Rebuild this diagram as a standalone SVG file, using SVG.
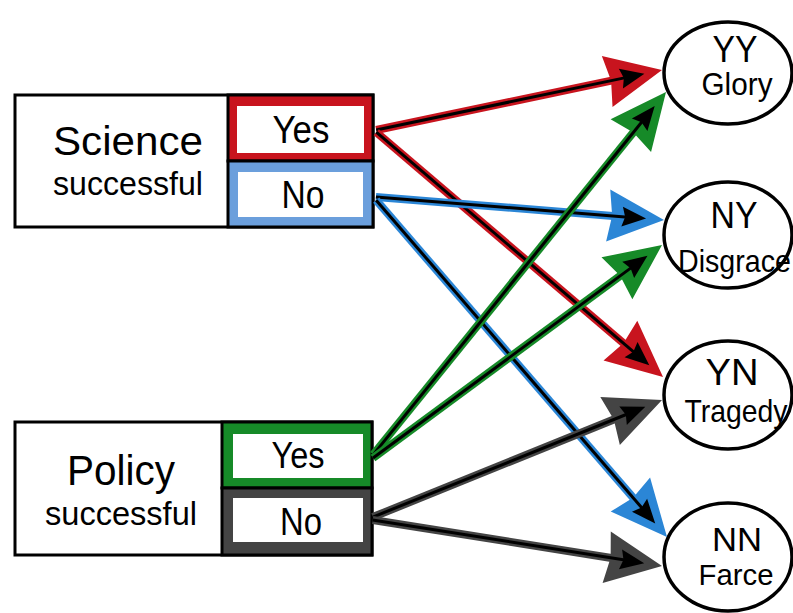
<svg xmlns="http://www.w3.org/2000/svg" xmlns:xlink="http://www.w3.org/1999/xlink" width="793" height="613" viewBox="0 0 793 613">
<style>
text{font-family:"Liberation Sans",Arial,sans-serif;fill:#000;text-anchor:middle}
.box{fill:#fff;stroke:#000;stroke-width:3}
.inner{fill:#fff;stroke:none}
.oval{fill:#fff;stroke:#000;stroke-width:3.5}
.red{stroke:#c8141e;fill:#c8141e}
.blue{stroke:#2b86d6;fill:#2b86d6}
.green{stroke:#168a28;fill:#168a28}
.grey{stroke:#444;fill:#444}
.cl{stroke-width:8;fill:none}
.bl{stroke:#000;stroke-width:3;fill:none}
.bh{fill:#000;stroke:none}
.ch{stroke:none}
</style>
<defs>
<polygon id="chead" points="0,0 -56,-26 -52,0 -56,26"/>
<polygon id="bhead" points="-18,0 -42,-10 -39,0 -42,10"/>
</defs>
<rect width="793" height="613" fill="#fff"/>

<g id="science">
<rect class="box" x="15" y="95" width="358" height="132"/>
<rect x="228" y="95" width="145" height="66" fill="#c8141e" stroke="#000" stroke-width="3"/>
<rect x="228" y="161" width="145" height="66" fill="#6b9fdc" stroke="#000" stroke-width="3"/>
<rect class="inner" x="237" y="106" width="127" height="47"/>
<rect class="inner" x="238" y="172" width="125" height="45"/>
<text x="128" y="155" font-size="40" textLength="150" lengthAdjust="spacingAndGlyphs">Science</text>
<text x="128" y="195" font-size="34" textLength="150" lengthAdjust="spacingAndGlyphs">successful</text>
<text x="301" y="143" font-size="38" textLength="57" lengthAdjust="spacingAndGlyphs">Yes</text>
<text x="303" y="208" font-size="38" textLength="43" lengthAdjust="spacingAndGlyphs">No</text>
</g>

<g id="policy">
<rect class="box" x="15" y="422" width="357" height="133"/>
<rect x="222" y="422" width="150" height="66" fill="#168a28" stroke="#000" stroke-width="3"/>
<rect x="222" y="488" width="150" height="67" fill="#444" stroke="#000" stroke-width="3"/>
<rect class="inner" x="233" y="434" width="130" height="44"/>
<rect class="inner" x="233" y="498" width="130" height="44"/>
<text x="121" y="485" font-size="42" textLength="108" lengthAdjust="spacingAndGlyphs">Policy</text>
<text x="121" y="525" font-size="34" textLength="152" lengthAdjust="spacingAndGlyphs">successful</text>
<text x="298" y="468" font-size="36" textLength="53" lengthAdjust="spacingAndGlyphs">Yes</text>
<text x="301" y="535" font-size="38" textLength="42" lengthAdjust="spacingAndGlyphs">No</text>
</g>

<g id="yy">
<ellipse class="oval" cx="728" cy="73" rx="64" ry="51"/>
<text x="735" y="62" font-size="37" textLength="45" lengthAdjust="spacingAndGlyphs">YY</text>
<text x="737" y="95" font-size="31" textLength="71" lengthAdjust="spacingAndGlyphs">Glory</text>
</g>
<g id="ny">
<ellipse class="oval" cx="728" cy="235" rx="64" ry="53"/>
<text x="734" y="228" font-size="36" textLength="47" lengthAdjust="spacingAndGlyphs">NY</text>
<text x="678" y="272" font-size="32" textLength="113" lengthAdjust="spacingAndGlyphs" style="text-anchor:start">Disgrace</text>
</g>
<g id="yn">
<ellipse class="oval" cx="728" cy="395" rx="64" ry="54"/>
<text x="732" y="385" font-size="37" textLength="53" lengthAdjust="spacingAndGlyphs">YN</text>
<text x="736" y="422" font-size="32" textLength="103" lengthAdjust="spacingAndGlyphs">Tragedy</text>
</g>
<g id="nn">
<ellipse class="oval" cx="728" cy="557" rx="64" ry="54"/>
<text x="737" y="551" font-size="34" textLength="50" lengthAdjust="spacingAndGlyphs">NN</text>
<text x="736" y="585" font-size="30" textLength="75" lengthAdjust="spacingAndGlyphs">Farce</text>
</g>

<g id="connectors">
<g class="red" transform="translate(662,70) rotate(-11.85)">
<line class="cl" x1="-292" y1="0" x2="-48" y2="0"/><use class="ch" href="#chead"/>
<line class="bl" x1="-292" y1="0" x2="-36" y2="0"/><use class="bh" href="#bhead"/>
</g>
<g class="red" transform="translate(663,377) rotate(40.49)">
<line class="cl" x1="-377" y1="0" x2="-48" y2="0"/><use class="ch" href="#chead"/>
<line class="bl" x1="-377" y1="0" x2="-36" y2="0"/><use class="bh" href="#bhead"/>
</g>
<g class="blue" transform="translate(664,220) rotate(4.57)">
<line class="cl" x1="-289" y1="0" x2="-48" y2="0"/><use class="ch" href="#chead"/>
<line class="bl" x1="-289" y1="0" x2="-36" y2="0"/><use class="bh" href="#bhead"/>
</g>
<g class="blue" transform="translate(667,537) rotate(49.19)">
<line class="cl" x1="-445" y1="0" x2="-48" y2="0"/><use class="ch" href="#chead"/>
<line class="bl" x1="-445" y1="0" x2="-36" y2="0"/><use class="bh" href="#bhead"/>
</g>
<g class="grey" transform="translate(662,400) rotate(-22.04)">
<line class="cl" x1="-312" y1="0" x2="-48" y2="0"/><use class="ch" href="#chead"/>
<line class="bl" x1="-312" y1="0" x2="-36" y2="0"/><use class="bh" href="#bhead"/>
</g>
<g class="grey" transform="translate(662,566) rotate(9.04)">
<line class="cl" x1="-293" y1="0" x2="-48" y2="0"/><use class="ch" href="#chead"/>
<line class="bl" x1="-293" y1="0" x2="-36" y2="0"/><use class="bh" href="#bhead"/>
</g>
<g class="green" transform="translate(666,92) rotate(-51.09)">
<line class="cl" x1="-466" y1="0" x2="-48" y2="0"/><use class="ch" href="#chead"/>
<line class="bl" x1="-466" y1="0" x2="-36" y2="0"/><use class="bh" href="#bhead"/>
</g>
<g class="green" transform="translate(662,245) rotate(-36.39)">
<line class="cl" x1="-359" y1="0" x2="-48" y2="0"/><use class="ch" href="#chead"/>
<line class="bl" x1="-359" y1="0" x2="-36" y2="0"/><use class="bh" href="#bhead"/>
</g>
</g>
</svg>
